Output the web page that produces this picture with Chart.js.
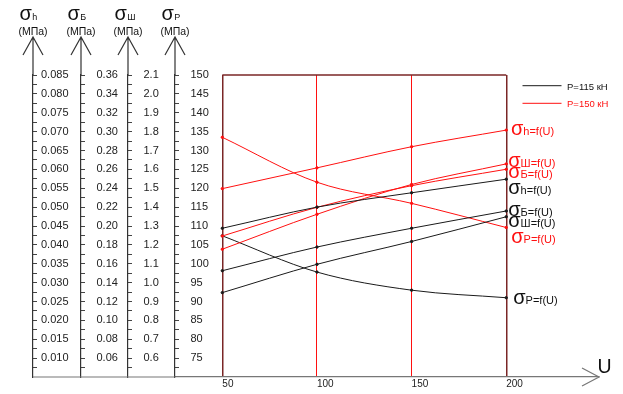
<!DOCTYPE html>
<html><head><meta charset="utf-8">
<script src="https://cdn.jsdelivr.net/npm/chart.js@4"></script>
<style>html,body{margin:0;padding:0;background:#fff}</style>
</head><body>
<canvas id="c" width="623" height="394"></canvas>
<script>
// ---- data ----
const U = [50, 100, 150, 200];
const xTicks = [50, 100, 150, 200];
const sigmaH_115  = [0.0444, 0.0500, 0.0538, 0.0574];
const sigmaH_150  = [0.0549, 0.0604, 0.0660, 0.0704];
const sigmaB_115  = [0.1526, 0.1777, 0.1976, 0.2159];
const sigmaB_150  = [0.1894, 0.2198, 0.2427, 0.2601];
const sigmaSh_115 = [0.947, 1.097, 1.218, 1.349];
const sigmaSh_150 = [1.177, 1.362, 1.520, 1.629];
const sigmaP_115  = [107.4, 97.8, 93.0, 91.0];
const sigmaP_150  = [133.5, 121.6, 116.0, 109.6];
// tick labels
const ticksH  = ['0.010','0.015','0.020','0.025','0.030','0.035','0.040','0.045','0.050','0.055','0.060','0.065','0.070','0.075','0.080','0.085'];
const ticksB  = ['0.06','0.08','0.10','0.12','0.14','0.16','0.18','0.20','0.22','0.24','0.26','0.28','0.30','0.32','0.34','0.36'];
const ticksSh = ['0.6','0.7','0.8','0.9','1.0','1.1','1.2','1.3','1.4','1.5','1.6','1.7','1.8','1.9','2.0','2.1'];
const ticksP  = ['75','80','85','90','95','100','105','110','115','120','125','130','135','140','145','150'];
const legendLabels = ['P=115 кН', 'P=150 кН'];

const FONT = '"Liberation Sans", Arial, sans-serif';
const RED = '#ff1010', BLACK = '#1a1a1a', MAROON = '#7a2626', AXIS = '#333';

function pts(arr){ return U.map((u,i)=>({x:u, y:arr[i]})); }
function ds(label, arr, axis, color){
  return {label, data: pts(arr), yAxisID: axis, borderColor: color, backgroundColor: color,
    borderWidth: 1, pointRadius: 1.2, pointHoverRadius: 1.2, cubicInterpolationMode: 'monotone', fill:false};
}
const datasets = [
  ds('σh 115', sigmaH_115, 'yH', BLACK),
  ds('σh 150', sigmaH_150, 'yH', RED),
  ds('σБ 115', sigmaB_115, 'yB', BLACK),
  ds('σБ 150', sigmaB_150, 'yB', RED),
  ds('σШ 115', sigmaSh_115, 'ySh', BLACK),
  ds('σШ 150', sigmaSh_150, 'ySh', RED),
  ds('σР 115', sigmaP_115, 'yP', BLACK),
  ds('σР 150', sigmaP_150, 'yP', RED)
];

function yAxis(labels, min, max, weight, width, pad){
  const vals = labels.map(Number);
  return {
    type:'linear', position:'left', weight, min, max,
    afterBuildTicks(s){
      const step = vals[1]-vals[0];
      const t = [{value: vals[0]-step/2, lbl:''}];
      vals.forEach((v,i)=>{
        t.push({value:v, lbl:labels[i]});
        if (i < vals.length-1) t.push({value:(v+vals[i+1])/2, lbl:''});
      });
      s.ticks = t;
    },
    afterFit(s){ s.width = width; s.paddingTop = 0; s.paddingBottom = 0; },
    ticks:{ mirror:true, padding:pad, autoSkip:false, crossAlign:'near', color:'#222',
      font:{family:FONT, size:11}, callback:(v,i,t)=> t[i].lbl },
    grid:{ drawOnChartArea:false, drawTicks:true, tickLength:-4, color:'#444', tickColor:'#444', lineWidth:1 },
    border:{ display:true, color:AXIS, width:1.2 }
  };
}

const endLabels = [
  {ds:1, sub:'h=f(U)', dx:4.7, dy:5},
  {ds:5, sub:'Ш=f(U)', dx:2, dy:3},
  {ds:3, sub:'Б=f(U)', dx:2, dy:8.7},
  {ds:0, sub:'h=f(U)', dx:2, dy:14.7},
  {ds:2, sub:'Б=f(U)', dx:2, dy:5},
  {ds:4, sub:'Ш=f(U)', dx:2, dy:10.3},
  {ds:7, sub:'Р=f(U)', dx:5, dy:15.3},
  {ds:6, sub:'Р=f(U)', dx:7, dy:6.3}
];
const axisTitles = [['yH','h'],['yB','Б'],['ySh','Ш'],['yP','Р']];

const deco = {
  id:'deco',
  afterDraw(chart){
    const ctx = chart.ctx, ca = chart.chartArea, xs = chart.scales.x;
    ctx.save();
    // axis extensions + arrows + titles
    ctx.strokeStyle = AXIS; ctx.lineWidth = 1.2; ctx.fillStyle = '#111';
    axisTitles.forEach(([id, sub])=>{
      const ax = chart.scales[id].right;
      ctx.beginPath();
      ctx.moveTo(ax, ca.top); ctx.lineTo(ax, 37);
      ctx.moveTo(ax-10, 55); ctx.lineTo(ax, 37); ctx.lineTo(ax+10, 55);
      ctx.stroke();
      ctx.textAlign = 'left'; ctx.textBaseline = 'alphabetic';
      ctx.font = '20px ' + FONT;
      const sx = ax - 13.5;
      ctx.fillText('σ', sx, 20);
      const w = ctx.measureText('σ').width;
      ctx.font = '9px ' + FONT;
      ctx.fillText(sub, sx + w + 0.5, 20);
      ctx.font = '10.5px ' + FONT; ctx.textAlign = 'center'; ctx.textBaseline = 'middle';
      ctx.fillText('(МПа)', ax, 32.5);
    });
    // x axis extension and arrow
    const by = xs.top, lx = chart.scales.yH.right;
    ctx.strokeStyle = '#777';
    ctx.beginPath();
    ctx.moveTo(lx, by); ctx.lineTo(ca.left, by);
    ctx.moveTo(582, by-9); ctx.lineTo(ca.right, by); ctx.lineTo(582, by+9);
    ctx.stroke();
    ctx.fillStyle = '#111'; ctx.font = '19.5px ' + FONT; ctx.textAlign='left'; ctx.textBaseline='alphabetic';
    ctx.fillText('U', 597.5, 373);
    // top edge of frame
    const yTop = chart.scales.yP.getPixelForValue(150);
    ctx.strokeStyle = MAROON; ctx.lineWidth = 1.5;
    ctx.beginPath(); ctx.moveTo(xs.getPixelForValue(50), yTop); ctx.lineTo(xs.getPixelForValue(200), yTop); ctx.stroke();
    // end labels
    endLabels.forEach(l=>{
      const meta = chart.getDatasetMeta(l.ds);
      const p = meta.data[meta.data.length-1];
      const color = chart.data.datasets[l.ds].borderColor;
      ctx.fillStyle = color === RED ? RED : '#111';
      ctx.textAlign='left'; ctx.textBaseline='alphabetic';
      ctx.font = '20px ' + FONT;
      const x = p.x + l.dx, y = p.y + l.dy;
      ctx.fillText('σ', x, y);
      const w = ctx.measureText('σ').width;
      ctx.font = '11px ' + FONT;
      ctx.fillText(l.sub, x + w, y);
    });
    // legend
    const leg = [[BLACK, 85.7, legendLabels[0]], [RED, 103.3, legendLabels[1]]];
    leg.forEach(([c, y, t])=>{
      ctx.strokeStyle = c; ctx.lineWidth = 1;
      ctx.beginPath(); ctx.moveTo(522.5, y); ctx.lineTo(561.5, y); ctx.stroke();
      ctx.fillStyle = c === RED ? RED : '#111';
      ctx.font = '9.5px ' + FONT; ctx.textAlign='left'; ctx.textBaseline='middle';
      ctx.fillText(t, 567, y + 1.3);
    });
    ctx.restore();
  }
};

new Chart(document.getElementById('c'), {
  type:'line',
  data:{ datasets },
  options:{
    responsive:false, animation:false, events:[],
    layout:{ padding:{ top:75, right:24, bottom:0, left:0 } },
    plugins:{ legend:{display:false}, tooltip:{enabled:false}, title:{display:false} },
    scales:{
      x:{ type:'linear', position:'bottom', min:25, max:249,
        afterBuildTicks(s){ s.ticks = xTicks.map(v=>({value:v})); },
        afterFit(s){ s.height = 17; s.paddingLeft = 0; s.paddingRight = 0; },
        ticks:{ align:'start', padding:1, autoSkip:false, maxRotation:0, color:'#222',
          font:{family:FONT, size:10}, callback:v=>String(v) },
        grid:{ drawTicks:false,
          color: c => (c.tick && (c.tick.value===50 || c.tick.value===200)) ? MAROON : RED,
          lineWidth: c => (c.tick && (c.tick.value===50 || c.tick.value===200)) ? 1.5 : 1 },
        border:{ color:'#777', width:1.2 }
      },
      yH: yAxis(ticksH, 0.005, 0.085, 4, 33, 8),
      yB: yAxis(ticksB, 0.04, 0.36, 3, 48, 15.5),
      ySh: yAxis(ticksSh, 0.5, 2.1, 2, 47, 15.5),
      yP: yAxis(ticksP, 70, 150, 1, 47, 15.5)
    }
  },
  plugins:[deco]
});
</script>
</body></html>
